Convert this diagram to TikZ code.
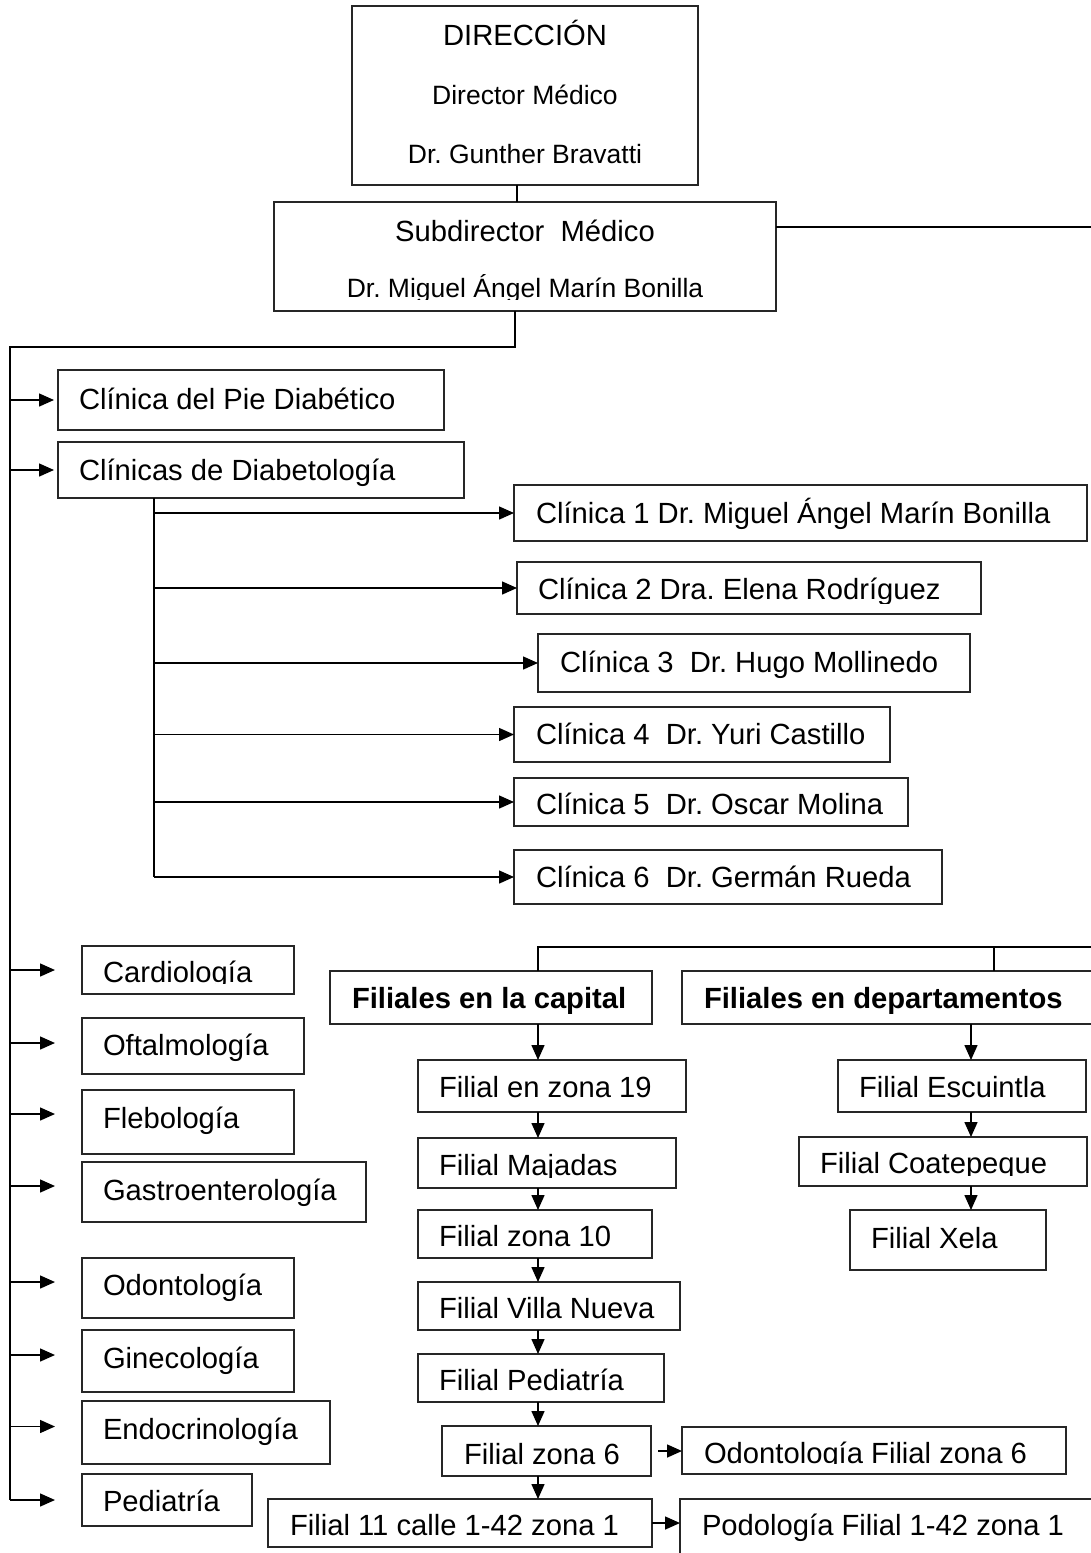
\documentclass[tikz,border=0pt]{standalone}
\usepackage{fontspec}
\setmainfont{Liberation Sans}
\usetikzlibrary{arrows.meta}
\frenchspacing
\newcommand\fA{\fontsize{29.2pt}{35pt}\selectfont\frenchspacing}
\newcommand\fB{\fontsize{26.5pt}{31pt}\selectfont\frenchspacing}
\tikzset{
  box/.style={draw=black!85, line width=1.1pt, rectangle, inner sep=0pt, outer sep=0pt, anchor=north west},
  conn/.style={draw=black, line width=1.5pt},
  arr/.style={conn, -{Triangle[length=15pt,width=13pt]}},
  txt/.style={draw=none, fill=none, inner sep=0pt, outer sep=0pt, minimum width=0pt, minimum height=0pt, rectangle, font=\fA},
}
% name, x1, y1, x2, y2, left pad, baseline above bottom, text
\newcommand\lbox[8]{%
  \node[box, minimum width={#4-#2}, minimum height={#5-#3}, path picture={%
    \clip ([yshift=11pt]path picture bounding box.south west) rectangle (path picture bounding box.north east);
    \node[txt, anchor=base west] at ([xshift=#6pt,yshift=#7pt]path picture bounding box.south west) {#8};
  }] (#1) at (#2,#3) {};}
\begin{document}
\begin{tikzpicture}[x=1pt,y=-1pt]
\useasboundingbox (0,0) rectangle (1090,1553);

% top boxes
\node[box, minimum width=346, minimum height=179, path picture={%
  \node[txt, anchor=base] at ([yshift=140pt]path picture bounding box.south) {DIRECCIÓN};
  \node[txt, anchor=base, font=\fB] at ([yshift=81pt]path picture bounding box.south) {Director Médico};
  \node[txt, anchor=base, font=\fB] at ([yshift=22pt]path picture bounding box.south) {Dr. Gunther Bravatti};
}] (dir) at (352,6) {};
\node[box, minimum width=502, minimum height=109, path picture={%
  \clip ([yshift=12pt]path picture bounding box.south west) rectangle (path picture bounding box.north east);
  \node[txt, anchor=base] at ([yshift=70pt]path picture bounding box.south) {Subdirector~ Médico};
  \node[txt, anchor=base, font=\fB] at ([yshift=14pt]path picture bounding box.south) {Dr. Miguel Ángel Marín Bonilla};
}] (sub) at (274,202) {};

% left column
\lbox{pie}{58}{370}{444}{430}{21}{21}{Clínica del Pie Diabético}
\lbox{diab}{58}{442}{464}{498}{21}{18}{Clínicas de Diabetología}
\lbox{c1}{514}{485}{1087}{541}{22}{18}{Clínica 1 Dr. Miguel Ángel Marín Bonilla}
\lbox{c2}{517}{562}{981}{614}{21}{15}{Clínica 2 Dra. Elena Rodríguez}
\lbox{c3}{538}{634}{970}{692}{22}{20}{Clínica 3~ Dr. Hugo Mollinedo}
\lbox{c4}{514}{707}{890}{762}{22}{18}{Clínica 4~ Dr. Yuri Castillo}
\lbox{c5}{514}{778}{908}{826}{22}{12}{Clínica 5~ Dr. Oscar Molina}
\lbox{c6}{514}{850}{942}{904}{22}{17}{Clínica 6~ Dr. Germán Rueda}
\lbox{card}{82}{946}{294}{994}{21}{12}{Cardiología}
\lbox{oft}{82}{1018}{304}{1074}{21}{19}{Oftalmología}
\lbox{fleb}{82}{1090}{294}{1154}{21}{26}{Flebología}
\lbox{gas}{82}{1162}{366}{1222}{21}{22}{Gastroenterología}
\lbox{odo}{82}{1258}{294}{1318}{21}{23}{Odontología}
\lbox{gin}{82}{1330}{294}{1392}{21}{24}{Ginecología}
\lbox{endo}{82}{1401}{330}{1464}{21}{25}{Endocrinología}
\lbox{ped}{82}{1474}{252}{1526}{21}{15}{Pediatría}

% filiales
\lbox{cap}{330}{971}{652}{1024}{22}{16}{\bfseries Filiales en la capital}
\lbox{dep}{682}{971}{1092}{1024}{22}{16}{\bfseries Filiales en departamentos}
\lbox{z19}{418}{1060}{686}{1112}{21}{15}{Filial en zona 19}
\lbox{maj}{418}{1138}{676}{1188}{21}{13}{Filial Majadas}
\lbox{z10}{418}{1210}{652}{1258}{21}{12}{Filial zona 10}
\lbox{vn}{418}{1282}{680}{1330}{21}{12}{Filial Villa Nueva}
\lbox{fped}{418}{1354}{664}{1402}{21}{12}{Filial Pediatría}
\lbox{z6}{442}{1426}{651}{1476}{22}{12}{Filial zona 6}
\lbox{odf}{682}{1427}{1066}{1474}{22}{11}{Odontología Filial zona 6}
\lbox{f11}{268}{1499}{652}{1547}{22}{12}{Filial 11 calle 1-42 zona 1}
\lbox{pod}{680}{1499}{1092}{1560}{22}{25}{Podología Filial 1-42 zona 1}
\lbox{esc}{838}{1060}{1086}{1112}{21}{15}{Filial Escuintla}
\lbox{coa}{799}{1137}{1087}{1186}{21}{13}{Filial Coatepeque}
\lbox{xela}{850}{1210}{1046}{1270}{21}{22}{Filial Xela}

% connectors top
\coordinate (j0) at (517,0);
\draw[conn] (dir.south -| j0) -- (sub.north -| j0);
\coordinate (rE) at (1092,227);
\draw[conn] (sub.east |- rE) -- (rE);
\coordinate (j1) at (515,347);
\coordinate (tA) at (10,347);
\draw[conn] (sub.south -| j1) -- (j1) -- (tA) -- (tA |- ped.west);

% left arrows
\draw[arr] (tA |- pie.west) -- ([xshift=-4pt]pie.west);
\draw[arr] (tA |- diab.west) -- ([xshift=-4pt]diab.west);
\foreach \n/\d in {card/0, oft/3, fleb/8, gas/6, odo/6, gin/6, endo/6, ped/0}{
  \path ([yshift=\d pt]\n.west) coordinate (tmp);
  \draw[arr] (tA |- tmp) -- ([xshift=-27pt]tmp);
}

% clinicas branch
\coordinate (cb) at (154,0);
\draw[conn] (diab.south -| cb) -- (cb |- c6.west);
\foreach \n in {c1,c2,c3,c4,c5,c6}{
  \draw[arr] (cb |- \n.west) -- (\n.west);
}

% filiales
\coordinate (fl) at (538,947);
\coordinate (fr) at (1092,947);
\coordinate (fm) at (994,947);
\draw[conn] (cap.north -| fl) -- (fl) -- (fr);
\draw[conn] (fm) -- (dep.north -| fm);
\coordinate (cx) at (538,0);
\foreach \a/\b in {cap/z19, z19/maj, maj/z10, z10/vn, vn/fped, fped/z6, z6/f11}{
  \draw[arr] (\a.south -| cx) -- (\b.north -| cx);
}
\coordinate (dx) at (971,0);
\foreach \a/\b in {dep/esc, esc/coa, coa/xela}{
  \draw[arr] (\a.south -| dx) -- (\b.north -| dx);
}
\draw[arr] ([xshift=7pt]z6.east) -- (z6.east -| odf.west);
\draw[arr] (f11.east) -- (f11.east -| pod.west);
\end{tikzpicture}
\end{document}
